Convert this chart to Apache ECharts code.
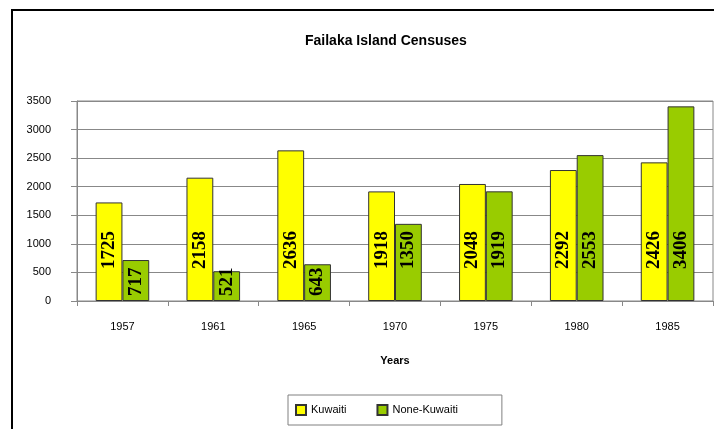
<!DOCTYPE html>
<html>
<head>
<meta charset="utf-8">
<script src="https://cdn.jsdelivr.net/npm/echarts@6/dist/echarts.min.js"></script>
<style>
  html, body { margin: 0; padding: 0; background: #fff; }
  #chart { width: 714px; height: 429px; }
</style>
</head>
<body>
<div id="chart"></div>
<script>
// Census years on the category axis
const years = ['1957', '1961', '1965', '1970', '1975', '1980', '1985'];
// Population counts per census
const kuwaiti = [1725, 2158, 2636, 1918, 2048, 2292, 2426];
const nonKuwaiti = [717, 521, 643, 1350, 1919, 2553, 3406];
// Value axis range
const yMin = 0;
const yMax = 3500;
const yStep = 500;

const sans = '"Liberation Sans", Arial, sans-serif';
const serif = '"Liberation Serif", "Times New Roman", serif';

// Vertical value labels sit inside the bar; short numbers sit near the base
function labelled(values) {
  return values.map(v => ({
    value: v,
    label: { distance: v >= 1000 ? 32 : 5 }
  }));
}

const barLabel = {
  show: true,
  position: 'insideBottom',
  rotate: 90,
  align: 'left',
  verticalAlign: 'middle',
  fontFamily: serif,
  fontWeight: 'bold',
  fontSize: 19,
  color: '#000'
};

const chart = echarts.init(document.getElementById('chart'), null, { renderer: 'canvas' });
chart.setOption({
  backgroundColor: '#fff',
  animation: false,
  title: {
    text: 'Failaka Island Censuses',
    left: 300,
    top: 29,
    textStyle: { fontFamily: sans, fontWeight: 'bold', fontSize: 14, color: '#000' }
  },
  legend: {
    data: ['Kuwaiti', 'None-Kuwaiti'],
    left: 288,
    top: 395,
    orient: 'horizontal',
    icon: 'rect',
    itemWidth: 10,
    itemHeight: 10,
    itemGap: 30,
    borderColor: '#808080',
    borderWidth: 1,
    padding: [9, 44, 9, 7],
    textStyle: { fontFamily: sans, fontSize: 11, color: '#000' }
  },
  grid: {
    left: 77,
    right: 1,
    top: 101,
    bottom: 128,
    show: true,
    borderColor: '#888',
    borderWidth: 1,
    backgroundColor: '#fff'
  },
  xAxis: {
    type: 'category',
    data: years,
    name: 'Years',
    nameLocation: 'middle',
    nameGap: 54,
    nameTextStyle: { fontFamily: sans, fontWeight: 'bold', fontSize: 11, color: '#000' },
    axisLine: { show: true, lineStyle: { color: '#888', width: 1 } },
    axisTick: { show: true, length: 5, lineStyle: { color: '#888' } },
    axisLabel: { margin: 20, fontFamily: sans, fontSize: 11, color: '#000' },
    splitLine: { show: false }
  },
  yAxis: {
    type: 'value',
    min: yMin,
    max: yMax,
    interval: yStep,
    axisLine: { show: true, lineStyle: { color: '#888', width: 1 } },
    axisTick: { show: true, length: 6, lineStyle: { color: '#888' } },
    axisLabel: {
      margin: 26,
      fontFamily: sans,
      fontSize: 11,
      color: '#000',
      formatter: v => String(v)
    },
    splitLine: { show: true, lineStyle: { color: '#888', width: 1 } }
  },
  series: [
    {
      name: 'Kuwaiti',
      type: 'bar',
      data: labelled(kuwaiti),
      barGap: '0%',
      barCategoryGap: '41%',
      itemStyle: { color: '#FFFF00', borderColor: '#333', borderWidth: 1 },
      label: barLabel
    },
    {
      name: 'None-Kuwaiti',
      type: 'bar',
      data: labelled(nonKuwaiti),
      barGap: '0%',
      barCategoryGap: '41%',
      itemStyle: { color: '#99CC00', borderColor: '#333', borderWidth: 1 },
      label: barLabel
    }
  ],
  graphic: [
    {
      // outer chart frame, running past the right and bottom edges
      type: 'rect',
      shape: { x: 12, y: 10, width: 900, height: 600 },
      style: { fill: null, stroke: '#000', lineWidth: 2 },
      silent: true,
      z: 100
    }
  ]
});
</script>
</body>
</html>
